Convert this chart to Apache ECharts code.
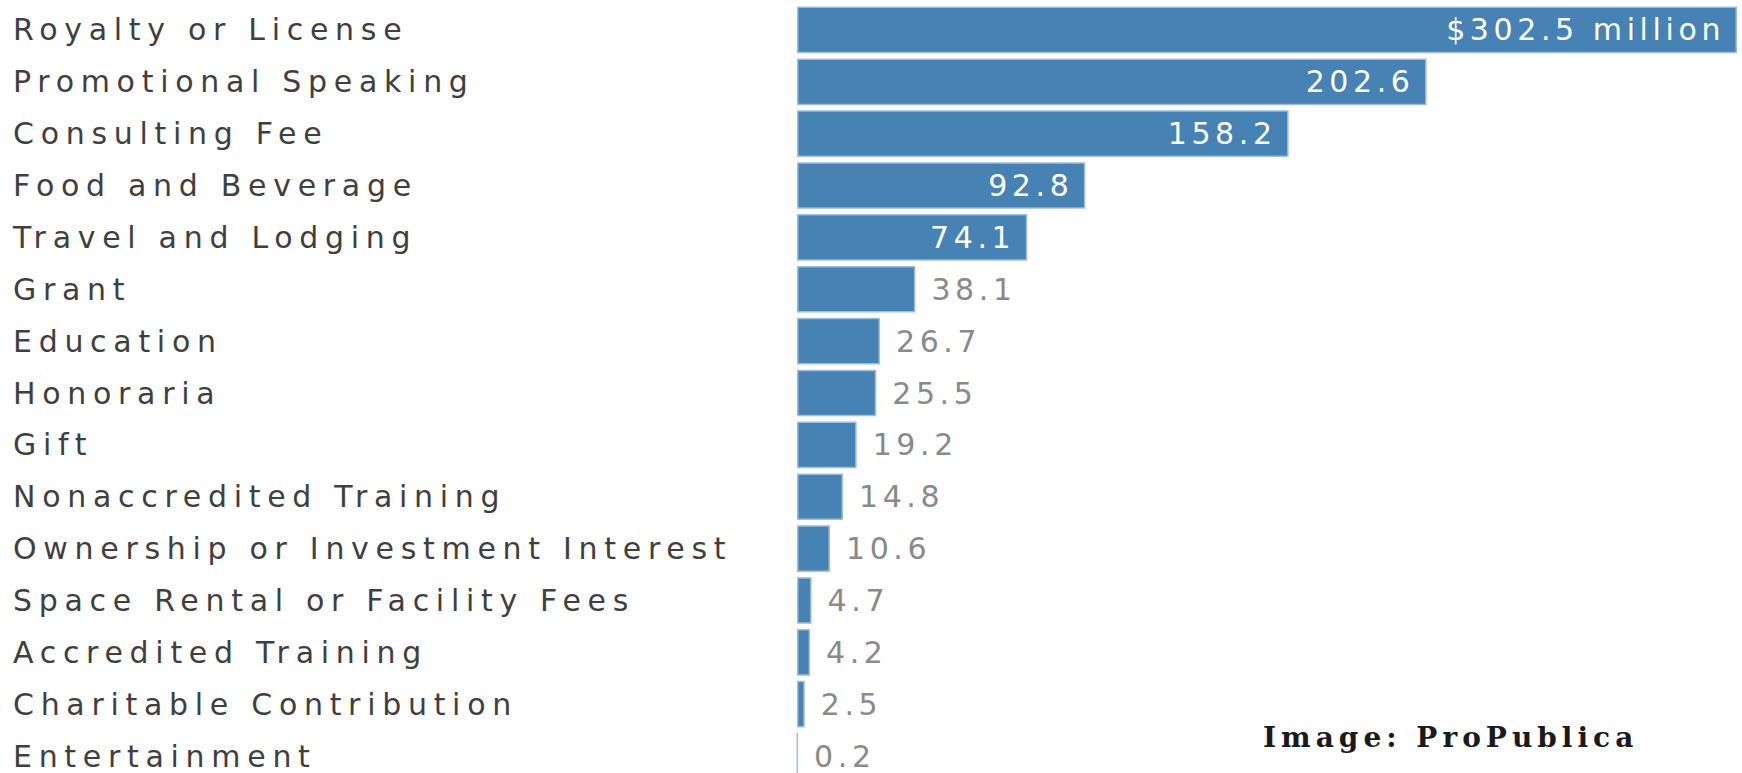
<!DOCTYPE html>
<html>
<head>
<meta charset="utf-8">
<script src="https://cdn.jsdelivr.net/npm/echarts@6/dist/echarts.min.js"></script>
<style>
  html, body { margin: 0; padding: 0; background: #fff; }
  #chart { width: 1742px; height: 773px; }
  /* the source image is stretched sideways, so every text run is widely tracked */
  #chart svg text { letter-spacing: 6.7px; }
  #chart svg text[style*="sans-serif"] { letter-spacing: 4.6px; }
  #chart svg text[style*="Serif"] { letter-spacing: 5px; }
</style>
</head>
<body>
<div id="chart"></div>
<script>
const categories = [
  'Royalty or License', 'Promotional Speaking', 'Consulting Fee', 'Food and Beverage',
  'Travel and Lodging', 'Grant', 'Education', 'Honoraria', 'Gift', 'Nonaccredited Training',
  'Ownership or Investment Interest', 'Space Rental or Facility Fees', 'Accredited Training',
  'Charitable Contribution', 'Entertainment'
];
const values = [302.5, 202.6, 158.2, 92.8, 74.1, 38.1, 26.7, 25.5, 19.2, 14.8, 10.6, 4.7, 4.2, 2.5, 0.2];
const insideCount = 5; // the big bars carry their label inside

const chart = echarts.init(document.getElementById('chart'), null, { renderer: 'svg' });

const seriesData = values.map((v, i) => ({
  value: v,
  label: i < insideCount
    ? { position: 'insideRight', distance: 12, color: '#ffffff' }
    : { position: 'right', distance: 16, color: '#8a8a8a' },
}));

chart.setOption({
  backgroundColor: '#ffffff',
  animation: false,
  grid: { left: 797, right: 5, top: 4, height: 778, outerBoundsMode: 'none' },
  xAxis: {
    type: 'value',
    min: 0,
    max: 302.5,
    show: false,
  },
  yAxis: {
    type: 'category',
    data: categories,
    inverse: true,
    axisLine: { show: false },
    axisTick: { show: false },
    axisLabel: {
      align: 'left',
      margin: 784,
      color: '#3f3f3f',
      fontFamily: 'DejaVu Sans',
      fontSize: 30,
    },
  },
  series: [
    {
      type: 'bar',
      data: seriesData,
      barCategoryGap: '10%',
      itemStyle: { color: '#4682b4', borderColor: '#9dbddb', borderWidth: 1.5 },
      label: {
        show: true,
        fontFamily: '"DejaVu Sans", sans-serif',
        fontSize: 30,
        formatter: (p) => (p.dataIndex === 0 ? '$' + p.value + ' million' : String(p.value)),
      },
    },
  ],
  graphic: [
    {
      type: 'text',
      left: 1263,
      top: 723,
      style: {
        text: 'Image: ProPublica',
        font: 'bold 28px "DejaVu Serif"',
        fill: '#1a1a1a',
      },
    },
  ],
});
</script>
</body>
</html>
